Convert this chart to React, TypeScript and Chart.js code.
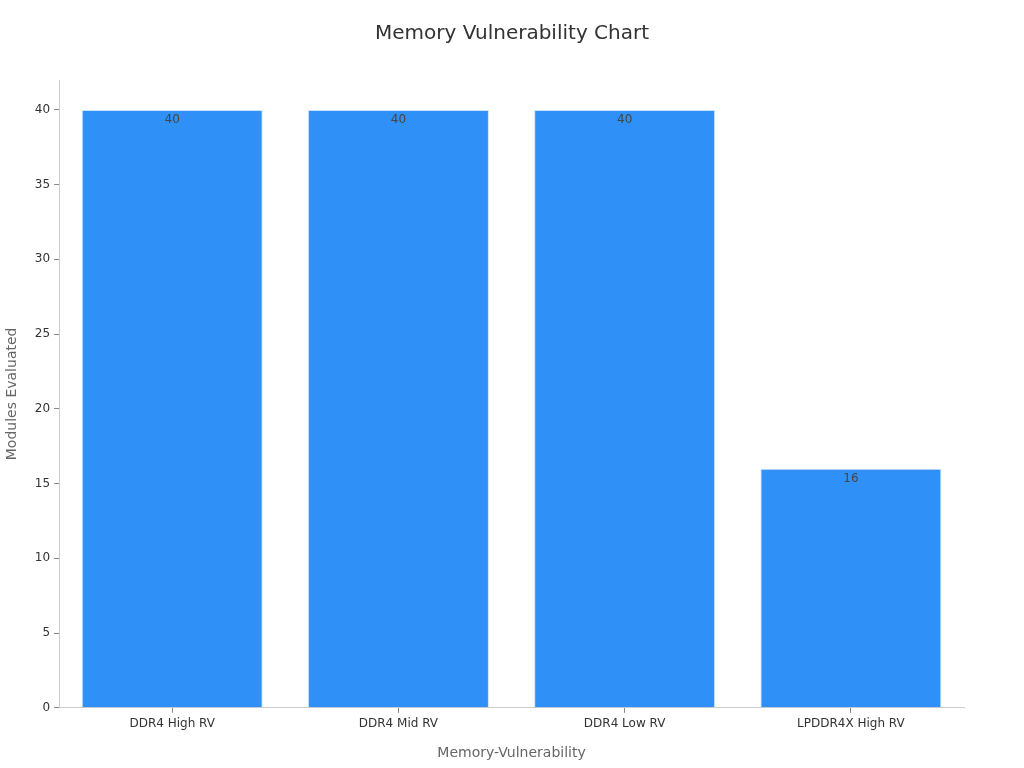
import React, { useEffect, useRef } from "react";
import { Chart, registerables } from "chart.js";

Chart.register(...registerables);

const categories = ["DDR4 High RV", "DDR4 Mid RV", "DDR4 Low RV", "LPDDR4X High RV"];
const modules = [40, 40, 40, 16];

const FONT = "'DejaVu Sans', sans-serif";

// draws the value just inside the top of each bar
const valueLabels = {
  id: "valueLabels",
  afterDatasetsDraw(chart: any) {
    const ctx = chart.ctx;
    const meta = chart.getDatasetMeta(0);
    ctx.save();
    ctx.font = `12px ${FONT}`;
    ctx.fillStyle = "#444";
    ctx.textAlign = "center";
    ctx.textBaseline = "middle";
    meta.data.forEach((bar: any, i: number) => {
      ctx.fillText(String(modules[i]), bar.x, bar.y + 10);
    });
    ctx.restore();
  },
};

// title centred on the whole canvas, not on the padded layout box
const pageTitle = {
  id: "pageTitle",
  afterDraw(chart: any) {
    const ctx = chart.ctx;
    ctx.save();
    ctx.font = `20px ${FONT}`;
    ctx.fillStyle = "#333";
    ctx.textAlign = "center";
    ctx.textBaseline = "middle";
    ctx.fillText("Memory Vulnerability Chart", chart.width / 2, 34);
    ctx.restore();
  },
};

const App = () => {
  const chartRef = useRef<HTMLCanvasElement>(null);

  useEffect(() => {
    document.body.style.margin = "0";
    const ctx = chartRef.current?.getContext("2d");
    if (!ctx) return;

    const chart = new Chart(ctx, {
      type: "bar",
      data: {
        labels: categories,
        datasets: [
          {
            label: "Modules Evaluated",
            data: modules,
            backgroundColor: "#2f91f8",
            borderColor: "#cfe3f7",
            borderWidth: 1,
            barPercentage: 0.8,
            categoryPercentage: 1,
          },
        ],
      },
      options: {
        responsive: false,
        animation: false,
        layout: { padding: { left: 0, right: 60, top: 80, bottom: 2 } },
        plugins: {
          legend: { display: false },
          tooltip: { enabled: false },
          title: { display: false },
        },
        scales: {
          x: {
            grid: { drawOnChartArea: false, tickLength: 5, color: "#888", offset: false },
            border: { color: "#ccc" },
            ticks: { color: "#333", font: { family: FONT, size: 12 }, padding: 4 },
            title: {
              display: true,
              text: "Memory-Vulnerability",
              color: "#666",
              font: { family: FONT, size: 14 },
              padding: { top: 10 },
            },
          },
          y: {
            min: 0,
            max: 42,
            grid: { drawOnChartArea: false, tickLength: 5, color: "#888" },
            border: { color: "#ccc" },
            ticks: {
              stepSize: 5,
              color: "#333",
              font: { family: FONT, size: 12 },
              padding: 4,
            },
            afterBuildTicks(axis: any) {
              axis.ticks = axis.ticks.filter((t: any) => t.value % 5 === 0);
            },
            title: {
              display: true,
              text: "Modules Evaluated",
              color: "#666",
              font: { family: FONT, size: 14 },
              padding: { bottom: 10 },
            },
          },
        },
      },
      plugins: [valueLabels, pageTitle],
    });

    return () => {
      chart.destroy();
    };
  }, []);

  return (
    <div style={{ width: 1024, height: 768 }}>
      <canvas ref={chartRef} width={1024} height={768} />
    </div>
  );
};

export default App;
